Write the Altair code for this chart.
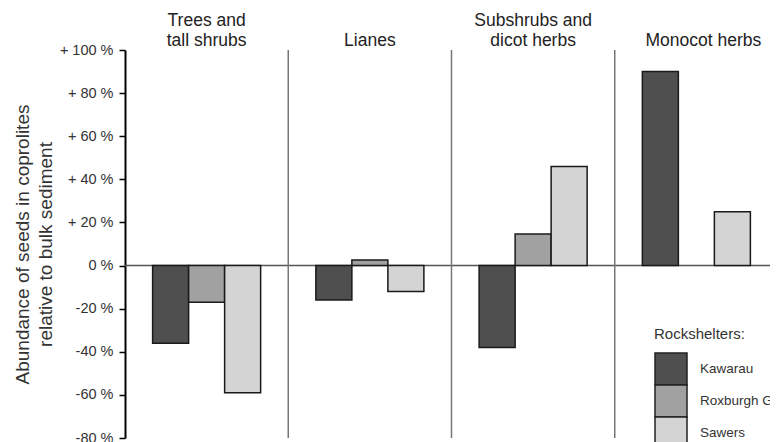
import altair as alt
import pandas as pd

groups = ["Trees and tall shrubs", "Lianes", "Subshrubs and dicot herbs", "Monocot herbs"]
sites = ["Kawarau", "Roxburgh Gorge", "Sawers"]
site_colors = ["#4f4f4f", "#a1a1a1", "#d4d4d4"]

kawarau = [-36, -16, -38, 90]
roxburgh = [-17, 2.6, 14.6, None]
sawers = [-59, -12, 46, 25]

rows = []
for g, k, r, s in zip(groups, kawarau, roxburgh, sawers):
    for site, v in zip(sites, [k, r, s]):
        if v is not None:
            rows.append({"group": g, "site": site, "value": v})
bars_df = pd.DataFrame(rows)

sep_df = pd.DataFrame({"group": groups[1:]})
zero_df = pd.DataFrame({"v": [0]})

y_ticks = [-80, -60, -40, -20, 0, 20, 40, 60, 80, 100]

x_axis = alt.Axis(
    orient="top", title=None, domain=False, ticks=False, labelAngle=0,
    labelFontSize=17.5, labelBaseline="bottom", labelPadding=21, labelLineHeight=20,
    labelColor="#222",
    labelOffset={"condition": {"test": "datum.label == 'Monocot herbs'", "value": 7}, "value": 0},
    labelExpr="datum.label == 'Trees and tall shrubs' ? ['Trees and', 'tall shrubs'] : "
              "datum.label == 'Subshrubs and dicot herbs' ? ['Subshrubs and', 'dicot herbs'] : ['', datum.label]",
)
x_scale = alt.Scale(paddingInner=0, paddingOuter=0, range=[0, 653])

y_scale = alt.Scale(domain=[-80, 100], nice=False)
y_axis = alt.Axis(
    values=y_ticks, grid=False,
    labelExpr="datum.value > 0 ? '+ ' + datum.value + ' %' : datum.value + ' %'",
    labelFontSize=14.5, labelColor="#333", labelPadding=6,
    domainColor="#000", domainWidth=2, tickColor="#000", tickWidth=1.5, tickSize=6,
    title=["Abundance of seeds in coprolites", "relative to bulk sediment"],
    titleFontSize=19, titleFontWeight="normal", titleColor="#333",
    titlePadding=4, titleLineHeight=23,
)

bars = alt.Chart(bars_df).mark_bar(stroke="#1a1a1a", strokeWidth=1.5).encode(
    x=alt.X("group:N", sort=groups, scale=x_scale, axis=x_axis),
    xOffset=alt.XOffset("site:N", sort=sites, scale=alt.Scale(paddingInner=0, paddingOuter=0.767)),
    y=alt.Y("value:Q", scale=y_scale, axis=y_axis),
    color=alt.Color(
        "site:N",
        sort=sites,
        scale=alt.Scale(domain=sites, range=site_colors),
        legend=alt.Legend(
            title="Rockshelters:", orient="none", legendX=529, legendY=277,
            titleFontSize=15, titleFontWeight="normal", titleColor="#333", titlePadding=10,
            symbolType="square", symbolSize=1024, symbolStrokeColor="#222", symbolStrokeWidth=1.5,
            symbolOpacity=1, labelFontSize=13.5, labelColor="#333", labelOffset=12,
            rowPadding=-6, padding=0, labelLimit=300,
        ),
    ),
)

zero_line = alt.Chart(zero_df).mark_rule(color="#555", strokeWidth=1.5).encode(
    y=alt.Y("v:Q", scale=y_scale, axis=y_axis)
)

separators = alt.Chart(sep_df).mark_rule(color="#777", strokeWidth=1.5).encode(
    x=alt.X("group:N", sort=groups, scale=x_scale, bandPosition=0, axis=x_axis)
)

chart = alt.layer(zero_line, separators, bars).properties(
    width=645,
    height=388,
    autosize=alt.AutoSizeParams(type="none"),
    padding={"left": 117, "top": 42, "right": 0, "bottom": 4},
).configure(font="Liberation Sans").configure_view(strokeOpacity=0).configure_legend(
    rowPadding=-6, gridAlign="none"
)

chart.save("out.html", embed_options={"renderer": "svg", "actions": False})
